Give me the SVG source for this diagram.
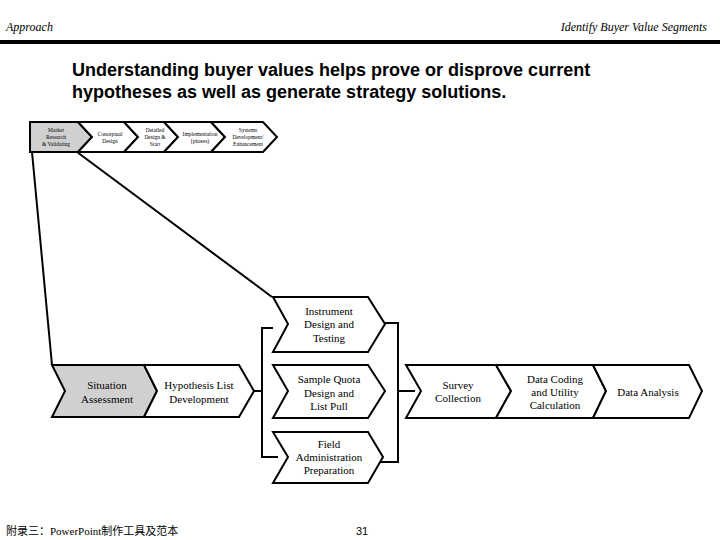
<svg xmlns="http://www.w3.org/2000/svg" width="720" height="540" viewBox="0 0 720 540">
<style>
.c{stroke:#000;stroke-width:2;fill:#fff}
.g{fill:#d0d0d0}
.t{font-family:"Liberation Serif",serif;font-size:11px;text-anchor:middle;fill:#000}
.s{font-family:"Liberation Serif",serif;font-size:5.5px;text-anchor:middle;fill:#000}
.h{font-family:"Liberation Serif",serif;font-style:italic;font-size:12px;fill:#000}
.ln{stroke:#000;stroke-width:2;fill:none}
</style>
<rect width="720" height="540" fill="#fff"/>
<text class="h" x="6" y="31">Approach</text>
<text class="h" x="707" y="31" text-anchor="end">Identify Buyer Value Segments</text>
<rect x="0" y="40" width="720" height="4" fill="#000"/>
<text x="72" y="76" font-family="Liberation Sans,Arial,sans-serif" font-weight="bold" font-size="18">Understanding buyer values helps prove or disprove current</text>
<text x="72" y="98" font-family="Liberation Sans,Arial,sans-serif" font-weight="bold" font-size="18">hypotheses as well as generate strategy solutions.</text>
<g id="connectors">
<path class="ln" d="M32 152 L52 365 M77 152 L272 297"/>
<path class="ln" d="M254 391 H262 M273 328 H262 V457 H278 M385 323 H398 V462 H374 M398 391 H415"/>
</g>
<g id="market"><path class="c g" d="M30 122 H78 L92 137 L78 152 H30 Z"/><text class="s" x="56" y="132">Market</text><text class="s" x="56" y="139">Research</text><text class="s" x="56" y="146">&amp; Validating</text></g>
<g id="conceptual"><path class="c" d="M78 122 H124 L138 137 L124 152 H78 L92 137 Z"/><text class="s" x="110" y="136">Conceptual</text><text class="s" x="110" y="143">Design</text></g>
<g id="detailed"><path class="c" d="M124 122 H164 L178 137 L164 152 H124 L138 137 Z"/><text class="s" x="155" y="132">Detailed</text><text class="s" x="155" y="139">Design &amp;</text><text class="s" x="155" y="146">Start</text></g>
<g id="implementation"><path class="c" d="M164 122 H211 L225 137 L211 152 H164 L178 137 Z"/><text class="s" x="200" y="136">Implementation</text><text class="s" x="200" y="143">(phases)</text></g>
<g id="systems"><path class="c" d="M211 122 H263 L277 137 L263 152 H211 L225 137 Z"/><text class="s" x="248" y="132">Systems</text><text class="s" x="248" y="139">Development/</text><text class="s" x="248" y="146">Enhancement</text></g>
<g id="situation"><path class="c g" d="M52 365 H144 L157 391 L144 417 H52 L65 391 Z"/><text class="t" x="107" y="389">Situation</text><text class="t" x="107" y="403">Assessment</text></g>
<g id="hypothesis"><path class="c" d="M144 365 H239 L254 391 L239 417 H144 L157 391 Z"/><text class="t" x="199" y="389">Hypothesis List</text><text class="t" x="199" y="403">Development</text></g>
<g id="instrument"><path class="c" d="M273 297 H368 L385 324 L368 352 H273 L288 324 Z"/><text class="t" x="329" y="315">Instrument</text><text class="t" x="329" y="328">Design and</text><text class="t" x="329" y="342">Testing</text></g>
<g id="sample"><path class="c" d="M273 365 H368 L385 391 L368 418 H273 L288 391 Z"/><text class="t" x="329" y="383">Sample Quota</text><text class="t" x="329" y="397">Design and</text><text class="t" x="329" y="410">List Pull</text></g>
<g id="field"><path class="c" d="M273 432 H368 L383 457 L368 483 H273 L288 457 Z"/><text class="t" x="329" y="448">Field</text><text class="t" x="329" y="461">Administration</text><text class="t" x="329" y="474">Preparation</text></g>
<g id="survey"><path class="c" d="M406 365 H496 L511 391 L496 418 H406 L421 391 Z"/><text class="t" x="458" y="389">Survey</text><text class="t" x="458" y="402">Collection</text></g>
<g id="coding"><path class="c" d="M496 365 H593 L606 391 L593 418 H496 L511 391 Z"/><text class="t" x="555" y="383">Data Coding</text><text class="t" x="555" y="396">and Utility</text><text class="t" x="555" y="409">Calculation</text></g>
<g id="analysis"><path class="c" d="M593 365 H689 L702 391 L689 418 H593 L606 391 Z"/><text class="t" x="648" y="396">Data Analysis</text></g>
<text x="6" y="535" font-family="Liberation Serif,Noto Sans CJK SC,serif" font-size="11">附录三：PowerPoint制作工具及范本</text>
<text x="362" y="535" font-family="Liberation Sans,sans-serif" font-size="11" text-anchor="middle">31</text>
</svg>
